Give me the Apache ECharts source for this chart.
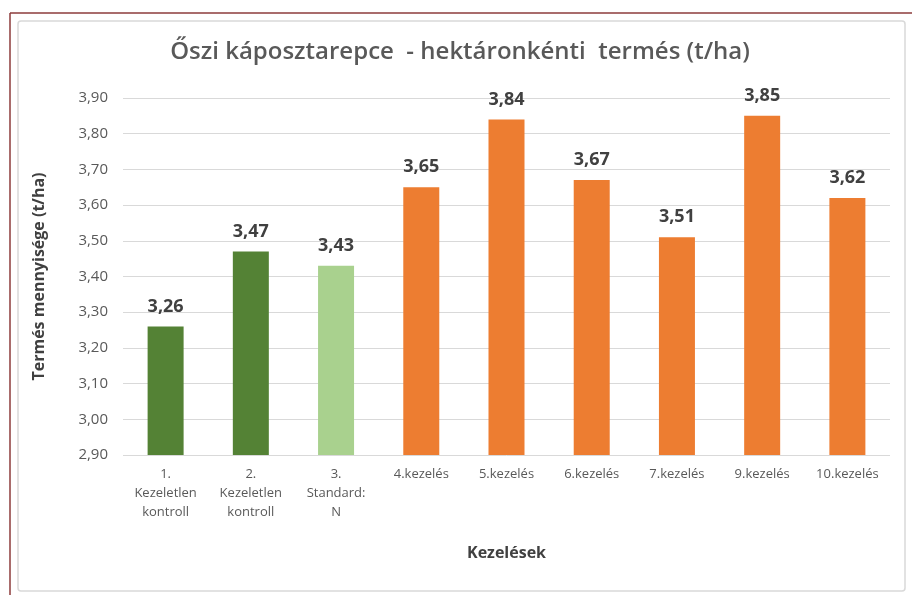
<!DOCTYPE html>
<html>
<head>
<meta charset="utf-8">
<script src="https://cdn.jsdelivr.net/npm/echarts@6/dist/echarts.min.js"></script>
<style>
  html, body { margin: 0; padding: 0; background: #fff; }
  #chart { width: 912px; height: 595px; }
</style>
</head>
<body>
<div id="chart"></div>
<script>
// kategóriák és értékek
var categories = [
  "1.\nKezeletlen\nkontroll",
  "2.\nKezeletlen\nkontroll",
  "3.\nStandard:\nN",
  "4.kezelés",
  "5.kezelés",
  "6.kezelés",
  "7.kezelés",
  "9.kezelés",
  "10.kezelés"
];
var yields = [3.26, 3.47, 3.43, 3.65, 3.84, 3.67, 3.51, 3.85, 3.62];
// oszlopszínek csoportonként
var barColors = ["#548235", "#548235", "#a9d18e", "#ed7d31", "#ed7d31", "#ed7d31", "#ed7d31", "#ed7d31", "#ed7d31"];

var font = "'Open Sans', 'Noto Sans', sans-serif";
function comma(v) {
  return v.toFixed(2).replace(".", ",");
}

var chart = echarts.init(document.getElementById("chart"));
chart.setOption({
  backgroundColor: "#fff",
  animation: false,
  textStyle: { fontFamily: font },
  title: {
    text: "Őszi káposztarepce  - hektáronkénti  termés (t/ha)",
    left: 455,
    top: 35,
    textAlign: "center",
    textStyle: { fontSize: 24, fontWeight: 600, color: "#595959", fontFamily: font }
  },
  // keretek
  graphic: [
    { type: "line", shape: { x1: 10, y1: 13, x2: 912, y2: 13 }, style: { stroke: "#8c3b3b", lineWidth: 1.5 } },
    { type: "line", shape: { x1: 10, y1: 13, x2: 10, y2: 595 }, style: { stroke: "#8c3b3b", lineWidth: 1.5 } },
    { type: "rect", shape: { x: 18, y: 21, width: 887, height: 570, r: 3 }, style: { fill: "none", stroke: "#d9d9d9", lineWidth: 1.5 } }
  ],
  grid: { left: 123, right: 22, top: 98, bottom: 140 },
  xAxis: {
    type: "category",
    data: categories,
    name: "Kezelések",
    nameLocation: "middle",
    nameGap: 90,
    nameTextStyle: { fontSize: 16, fontWeight: "bold", color: "#404040" },
    axisLine: { show: false },
    axisTick: { show: false },
    axisLabel: { fontSize: 13, color: "#595959", lineHeight: 19, margin: 10, interval: 0 }
  },
  yAxis: {
    type: "value",
    min: 2.9,
    max: 3.9,
    interval: 0.1,
    name: "Termés mennyisége (t/ha)",
    nameLocation: "middle",
    nameGap: 76,
    nameTextStyle: { fontSize: 16, fontWeight: "bold", color: "#404040" },
    axisLine: { show: false },
    axisTick: { show: false },
    axisLabel: { fontSize: 15, color: "#595959", margin: 15, formatter: function (v) { return comma(v); } },
    splitLine: { lineStyle: { color: "#d9d9d9", width: 1 } }
  },
  series: [{
    type: "bar",
    data: yields.map(function (v, i) {
      return { value: v, itemStyle: { color: barColors[i] } };
    }),
    barWidth: 36,
    label: {
      show: true,
      position: "top",
      distance: 11,
      fontSize: 18,
      fontWeight: "bold",
      color: "#404040",
      formatter: function (p) { return comma(p.value); }
    }
  }]
});
</script>
</body>
</html>
